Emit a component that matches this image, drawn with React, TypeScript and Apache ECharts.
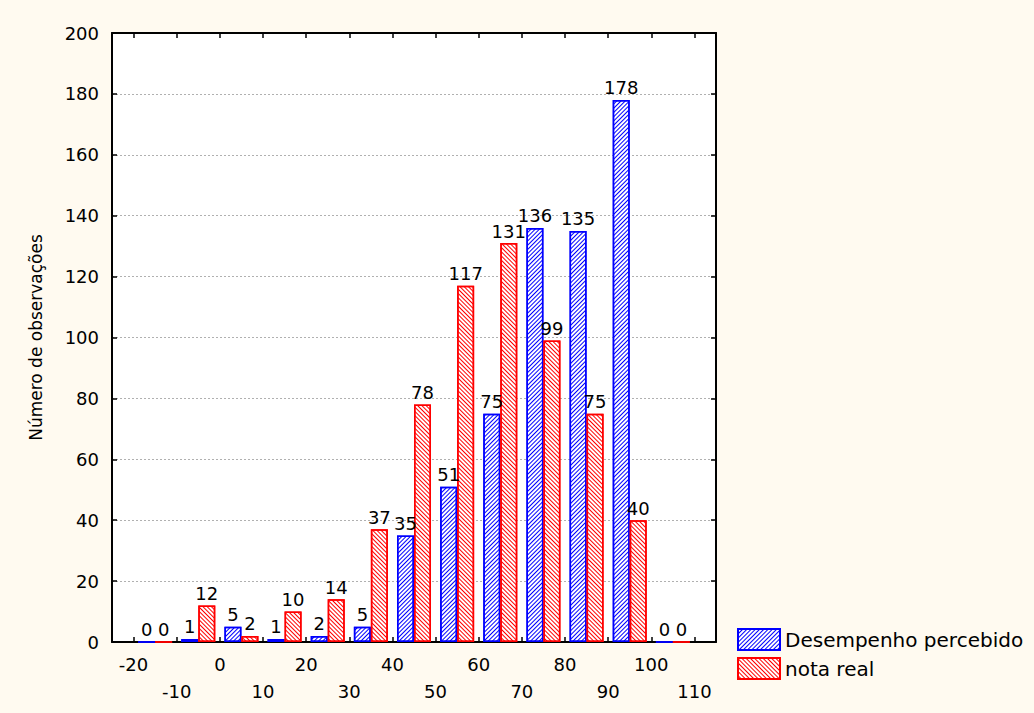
import React, { useEffect, useRef } from "react";
import * as echarts from "echarts";

const binStarts = [-20, -10, 0, 10, 20, 30, 40, 50, 60, 70, 80, 90, 100];
const binWidth = 10;
const percebido = [0, 1, 5, 1, 2, 5, 35, 51, 75, 136, 135, 178, 0];
const notaReal = [0, 12, 2, 10, 14, 37, 78, 117, 131, 99, 75, 40, 0];
const xTicks = [-20, -10, 0, 10, 20, 30, 40, 50, 60, 70, 80, 90, 100, 110];
const seriesNames = ["Desempenho percebido", "nota real"];
const yAxisName = "Número de observações";

const FONT = "'DejaVu Sans', sans-serif";

export default function App() {
  const ref = useRef<HTMLDivElement>(null);
  useEffect(() => {
    document.body.style.margin = "0";
    const chart = echarts.init(ref.current!, null, { renderer: "svg" });
    const centers = binStarts.map((s) => s + binWidth / 2);
    const mkDecal = (color: string, rot: number) => ({
      symbol: "rect",
      symbolSize: 1,
      dashArrayX: [1, 0],
      dashArrayY: [1, 2],
      rotation: rot,
      color,
    });
    const label = {
      show: true,
      position: "top",
      distance: 3,
      color: "#000",
      fontSize: 18,
      fontFamily: FONT,
    };
    const xCommon = {
      type: "value",
      min: -25,
      max: 115,
      axisLine: { show: true, onZero: false, lineStyle: { color: "#000", width: 2 } },
      axisTick: { show: true, inside: true, length: 5, customValues: xTicks, lineStyle: { color: "#000", width: 1.5 } },
      splitLine: { show: false },
    };
    const yCommon = {
      type: "value",
      min: 0,
      max: 200,
      interval: 20,
      axisLine: { show: true, onZero: false, lineStyle: { color: "#000", width: 2 } },
      axisTick: { show: true, inside: true, length: 5, lineStyle: { color: "#000", width: 1.5 } },
    };
    chart.setOption({
      animation: false,
      backgroundColor: "#fffaf0",
      grid: {
        left: 112,
        right: 318,
        top: 33,
        bottom: 71,
        show: true,
        backgroundColor: "#ffffff",
        borderWidth: 0,
      },
      legend: {
        orient: "vertical",
        left: 737,
        top: 628,
        padding: 0,
        itemWidth: 42,
        itemHeight: 21,
        itemGap: 6,
        icon: "rect",
        textStyle: { fontSize: 20, color: "#000", fontFamily: FONT },
        data: seriesNames,
      },
      xAxis: [
        {
          ...xCommon,
          position: "bottom",
          axisLabel: {
            show: true,
            customValues: xTicks,
            color: "#000",
            fontSize: 18,
            fontFamily: FONT,
            margin: 9,
            lineHeight: 27,
            formatter: (v: number) => ((v / 10) % 2 === 0 ? String(v) : "\n" + v),
          },
        },
        {
          ...xCommon,
          position: "top",
          axisLabel: { show: false },
        },
      ],
      yAxis: [
        {
          ...yCommon,
          position: "left",
          name: yAxisName,
          nameLocation: "middle",
          nameGap: 68,
          nameTextStyle: { fontSize: 17, color: "#000", fontFamily: FONT },
          axisLabel: { color: "#000", fontSize: 18, fontFamily: FONT, margin: 13 },
          splitLine: { show: true, lineStyle: { color: "#b0b0b0", type: [2, 2], width: 1 } },
        },
        {
          ...yCommon,
          position: "right",
          axisLabel: { show: false },
          splitLine: { show: false },
        },
      ],
      series: [
        {
          name: seriesNames[0],
          type: "bar",
          barWidth: 17,
          barGap: "0%",
          data: centers.map((c, i) => [c, percebido[i]]),
          itemStyle: {
            color: "#ffffff",
            borderColor: "#0000ff",
            borderWidth: 1.5,
            decal: mkDecal("#0000ff", -Math.PI / 4),
          },
          label,
        },
        {
          name: seriesNames[1],
          type: "bar",
          barWidth: 17,
          barGap: "0%",
          data: centers.map((c, i) => [c, notaReal[i]]),
          itemStyle: {
            color: "#ffffff",
            borderColor: "#ff0000",
            borderWidth: 1.5,
            decal: mkDecal("#ff0000", Math.PI / 4),
          },
          label,
        },
      ],
    });
    return () => chart.dispose();
  }, []);
  return (
    <div
      ref={ref}
      style={{ position: "fixed", left: 0, top: 0, width: 1034, height: 713 }}
    />
  );
}
